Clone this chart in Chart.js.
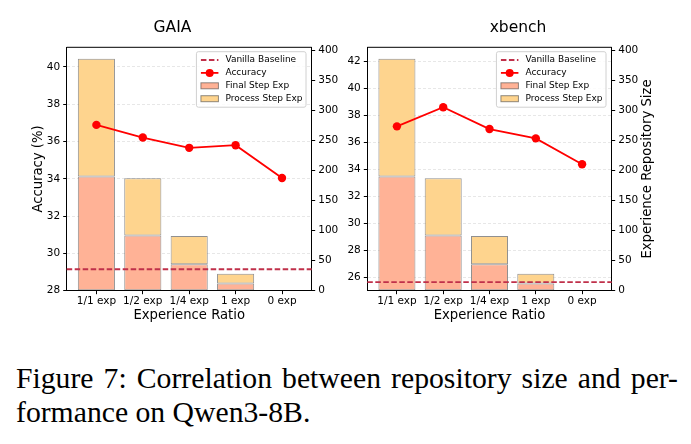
<!DOCTYPE html>
<html>
<head>
<meta charset="utf-8">
<script src="https://cdn.jsdelivr.net/npm/chart.js@4.4.0/dist/chart.umd.min.js"></script>
<style>
  body { margin: 0; width: 691px; height: 444px; background: #fff; position: relative; overflow: hidden; }
  canvas { position: absolute; top: 0; }
  #gaia { left: 0; }
  #xbench { left: 345px; }
  .caption { position: absolute; left: 16px; font-family: 'Liberation Serif', 'Times New Roman', serif; font-size: 29.7px; line-height: 30px; color: #000; }
  #cap1 { top: 363px; width: 662px; text-align: justify; text-align-last: justify; }
  #cap2 { top: 397px; white-space: nowrap; }
</style>
</head>
<body>
<canvas id="gaia" width="345" height="335"></canvas>
<canvas id="xbench" width="346" height="335"></canvas>
<div class="caption" id="cap1">Figure 7: Correlation between repository size and per-</div>
<div class="caption" id="cap2">formance on Qwen3-8B.</div>
<script>
// data
const categories = ['1/1 exp', '1/2 exp', '1/4 exp', '1 exp', '0 exp'];
const finalStepExp = [190, 92, 44, 12, 0];
const processStepExp = [196, 95, 47, 16, 0];
const gaiaAccuracy = [36.89, 36.21, 35.66, 35.80, 34.04];
const xbenchAccuracy = [37.20, 38.62, 37.00, 36.31, 34.39];
const gaiaBaseline = 29.15;
const xbenchBaseline = 25.63;
const gaiaAccTicks = [28, 30, 32, 34, 36, 38, 40];
const xbenchAccTicks = [26, 28, 30, 32, 34, 36, 38, 40, 42];
const sizeTicks = [0, 50, 100, 150, 200, 250, 300, 350, 400];

const FONT = "'DejaVu Sans', sans-serif";
const BASELINE_COLOR = '#c0304a';
const FINAL_COLOR = 'rgb(255,178,150)';
const PROCESS_COLOR = 'rgb(254,212,142)';
const EDGE_COLOR = 'rgba(70,70,70,0.6)';

// dashed baseline across the whole axes
const baselinePlugin = {
  id: 'baseline',
  afterDatasetsDraw(chart, args, opts) {
    const { ctx, chartArea: a } = chart;
    const y = chart.scales.y.getPixelForValue(opts.value);
    ctx.save();
    ctx.strokeStyle = BASELINE_COLOR;
    ctx.lineWidth = 1.8;
    ctx.setLineDash([5.5, 2.5]);
    ctx.beginPath();
    ctx.moveTo(a.left, y);
    ctx.lineTo(a.right, y);
    ctx.stroke();
    ctx.restore();
  }
};

// legend box in the upper right corner
const boxLegend = {
  id: 'boxLegend',
  afterDraw(chart) {
    const { ctx, chartArea: a } = chart;
    const items = [
      { text: 'Vanilla Baseline', kind: 'dash' },
      { text: 'Accuracy', kind: 'marker' },
      { text: 'Final Step Exp', kind: 'rect', fill: FINAL_COLOR },
      { text: 'Process Step Exp', kind: 'rect', fill: PROCESS_COLOR }
    ];
    ctx.save();
    ctx.font = '9px ' + FONT;
    const textW = Math.max(...items.map(it => ctx.measureText(it.text).width));
    const w = 29 + textW + 3.5, h = 55.5;
    const x0 = a.right - 5.7 - w, y0 = a.top + 4.4;
    ctx.fillStyle = 'rgba(255,255,255,0.8)';
    ctx.strokeStyle = '#d0d0d0';
    ctx.lineWidth = 1;
    ctx.beginPath();
    ctx.roundRect(x0, y0, w, h, 2);
    ctx.fill();
    ctx.stroke();
    items.forEach((it, i) => {
      const cy = y0 + 8.3 + i * 12.9;
      const hx0 = x0 + 4.5, hx1 = x0 + 22;
      if (it.kind === 'dash') {
        ctx.strokeStyle = BASELINE_COLOR;
        ctx.lineWidth = 1.8;
        ctx.setLineDash([5.5, 2.5]);
        ctx.beginPath(); ctx.moveTo(hx0, cy); ctx.lineTo(hx1, cy); ctx.stroke();
        ctx.setLineDash([]);
      } else if (it.kind === 'marker') {
        ctx.strokeStyle = 'red';
        ctx.lineWidth = 1.8;
        ctx.beginPath(); ctx.moveTo(hx0, cy); ctx.lineTo(hx1, cy); ctx.stroke();
        ctx.fillStyle = 'red';
        ctx.beginPath(); ctx.arc((hx0 + hx1) / 2, cy, 4, 0, Math.PI * 2); ctx.fill();
      } else {
        ctx.fillStyle = it.fill;
        ctx.strokeStyle = EDGE_COLOR;
        ctx.lineWidth = 1;
        ctx.fillRect(hx0, cy - 3, hx1 - hx0, 6);
        ctx.strokeRect(hx0, cy - 3, hx1 - hx0, 6);
      }
      ctx.fillStyle = '#000';
      ctx.textBaseline = 'middle';
      ctx.textAlign = 'left';
      ctx.fillText(it.text, x0 + 29, cy);
    });
    ctx.restore();
  }
};

// top spine, plus the right-hand axis title reading bottom to top
const framePlugin = {
  id: 'frame',
  afterDraw(chart, args, opts) {
    const { ctx, chartArea: a } = chart;
    ctx.save();
    ctx.strokeStyle = '#000';
    ctx.lineWidth = 1;
    ctx.beginPath(); ctx.moveTo(a.left, a.top); ctx.lineTo(a.right, a.top); ctx.stroke();
    if (opts.rightTitle) {
      ctx.translate(chart.scales.y1.right - 43, (a.top + a.bottom) / 2);
      ctx.rotate(-Math.PI / 2);
      ctx.font = '13.2px ' + FONT;
      ctx.fillStyle = '#000';
      ctx.textAlign = 'center';
      ctx.textBaseline = 'middle';
      ctx.fillText(opts.rightTitle, 0, 0);
    }
    ctx.restore();
  }
};

function makeChart(id, title, accuracy, baseline, accMin, accMax, accTicks, leftW, rightW, leftTitle, rightTitle) {
  const xy = arr => arr.map((v, i) => ({ x: i, y: v }));
  return new Chart(document.getElementById(id), {
    type: 'bar',
    data: {
      datasets: [
        {
          type: 'line', label: 'Accuracy', data: xy(accuracy), yAxisID: 'y', order: 0,
          borderColor: 'red', backgroundColor: 'red', borderWidth: 1.8,
          pointRadius: 4.2, pointBorderWidth: 0, pointBackgroundColor: 'red', tension: 0
        },
        {
          label: 'Final Step Exp', data: xy(finalStepExp), yAxisID: 'y1', stack: 'exp', order: 2,
          backgroundColor: FINAL_COLOR, borderColor: EDGE_COLOR, borderWidth: 1, borderSkipped: false,
          categoryPercentage: 1, barPercentage: 0.8
        },
        {
          label: 'Process Step Exp', data: xy(processStepExp), yAxisID: 'y1', stack: 'exp', order: 3,
          backgroundColor: PROCESS_COLOR, borderColor: EDGE_COLOR, borderWidth: 1, borderSkipped: false,
          categoryPercentage: 1, barPercentage: 0.8
        }
      ]
    },
    options: {
      responsive: false,
      animation: false,
      devicePixelRatio: 1,
      layout: { padding: 0 },
      plugins: {
        legend: { display: false },
        tooltip: { enabled: false },
        title: {
          display: true, text: title, color: '#000',
          font: { family: FONT, size: 15.5, weight: 'normal' },
          padding: { top: 18.7, bottom: 10 }
        },
        baseline: { value: baseline },
        frame: { rightTitle: rightTitle }
      },
      scales: {
        x: {
          type: 'linear', min: -0.64, max: 4.64, stacked: true, offset: false,
          afterBuildTicks: s => { s.ticks = categories.map((c, i) => ({ value: i })); },
          afterFit: s => { s.height = 44.3; },
          ticks: {
            callback: v => categories[v], color: '#000', padding: 1,
            font: { family: FONT, size: 10.5 }, maxRotation: 0, autoSkip: false
          },
          grid: { offset: false, drawOnChartArea: false, drawTicks: true, tickLength: 3.5, tickColor: '#000', tickWidth: 1 },
          border: { display: true, color: '#000', width: 1 },
          title: {
            display: true, text: 'Experience Ratio', color: '#000',
            font: { family: FONT, size: 13.2 }, padding: { top: 0, bottom: 11.2 }
          }
        },
        y: {
          position: 'left', min: accMin, max: accMax,
          afterBuildTicks: s => { s.ticks = accTicks.map(v => ({ value: v })); },
          afterFit: s => { s.width = leftW; },
          ticks: { color: '#000', padding: 3, font: { family: FONT, size: 10.5 } },
          grid: {
            drawOnChartArea: true, color: 'rgba(0,0,0,0.12)', lineWidth: 0.8,
            drawTicks: true, tickLength: 3.5, tickColor: '#000', tickWidth: 1
          },
          border: { display: true, color: '#000', width: 1, dash: [3, 2] },
          title: {
            display: !!leftTitle, text: leftTitle || '', color: '#000',
            font: { family: FONT, size: 13.2 }, padding: { top: 30.2, bottom: 0 }
          }
        },
        y1: {
          position: 'right', min: 0, max: 405, stacked: true,
          afterBuildTicks: s => { s.ticks = sizeTicks.map(v => ({ value: v })); },
          afterFit: s => { s.width = rightW; },
          ticks: { color: '#000', padding: 3, font: { family: FONT, size: 10.5 } },
          grid: { drawOnChartArea: false, drawTicks: true, tickLength: 3.5, tickColor: '#000', tickWidth: 1 },
          border: { display: true, color: '#000', width: 1 }
        }
      }
    },
    plugins: [baselinePlugin, boxLegend, framePlugin]
  });
}

makeChart('gaia', 'GAIA', gaiaAccuracy, gaiaBaseline, 28, 41.05, gaiaAccTicks, 66.7, 33.3, 'Accuracy (%)', null);
makeChart('xbench', 'xbench', xbenchAccuracy, xbenchBaseline, 25, 43.07, xbenchAccTicks, 22.3, 79.3, null, 'Experience Repository Size');
</script>
</body>
</html>
